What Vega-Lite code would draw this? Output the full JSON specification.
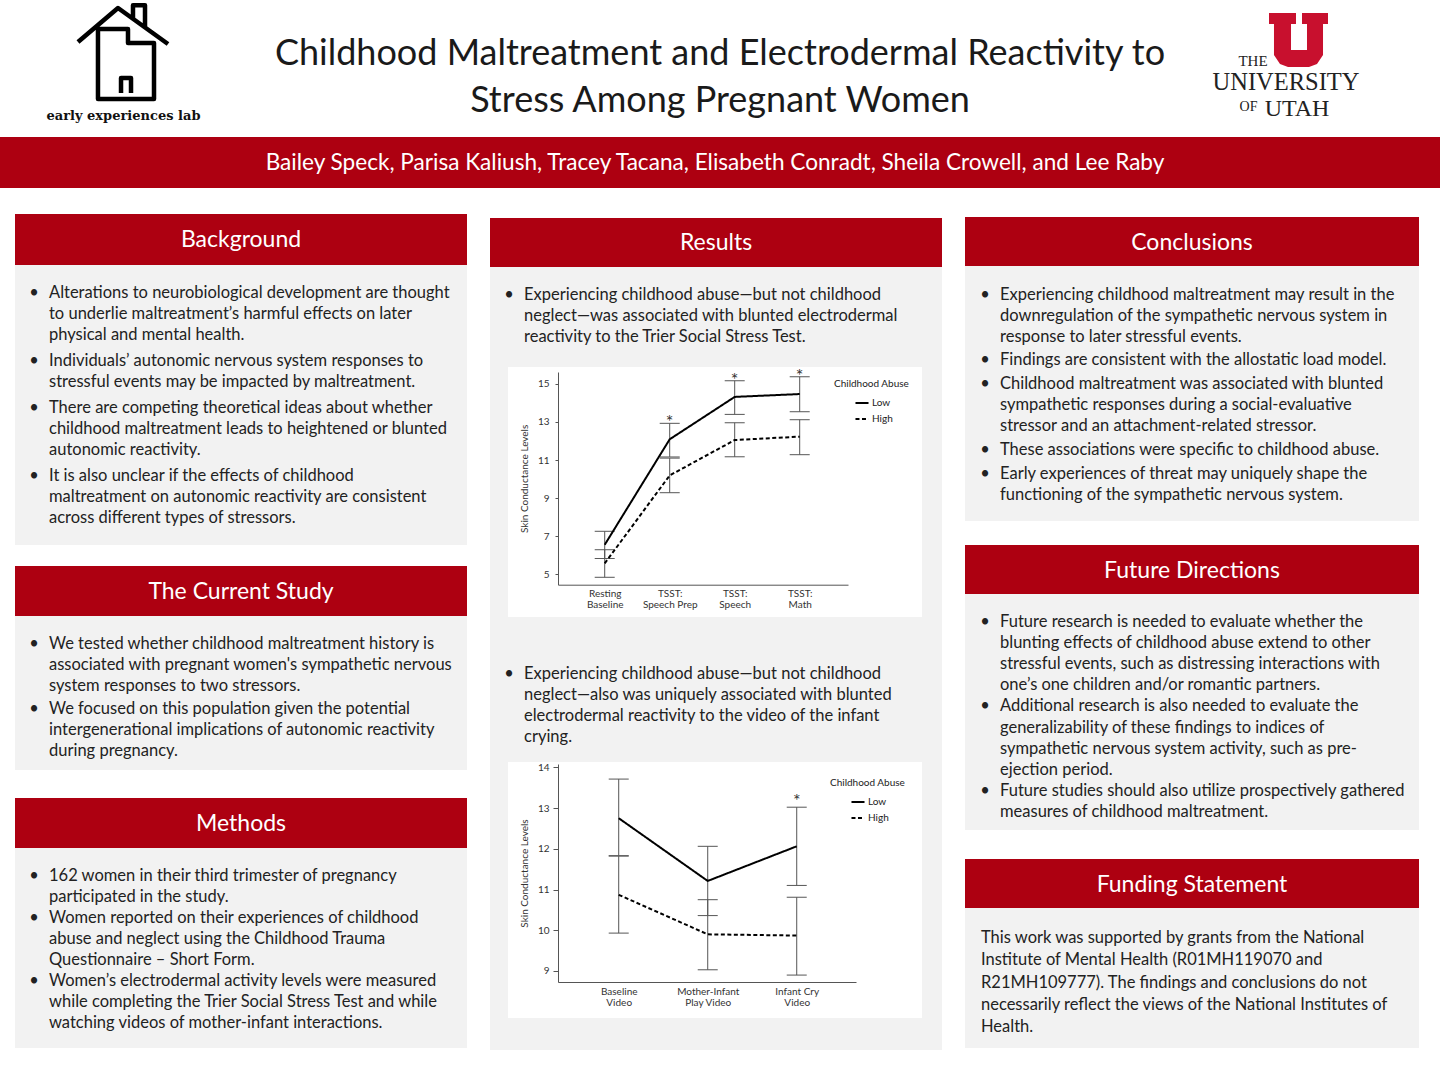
{
  "$schema": "https://vega.github.io/schema/vega-lite/v6.json",
  "background": "white",
  "padding": 0,
  "spacing": 0,
  "resolve": {"scale": {"strokeDash": "independent"}, "legend": {"strokeDash": "independent"}},
  "config": {
    "font": "Lato",
    "view": {"stroke": null},
    "axis": {"labelFont": "Lato", "titleFont": "Lato", "grid": false},
    "legend": {"labelFont": "Lato", "titleFont": "Lato"}
  },
  "datasets": {
    "bg": [
      {"l": 0, "p": 0, "b": "•", "t": "Alterations to neurobiological development are thought"},
      {"l": 1, "p": 0, "b": "", "t": "to underlie maltreatment’s harmful effects on later"},
      {"l": 2, "p": 0, "b": "", "t": "physical and mental health."},
      {"l": 3, "p": 1, "b": "•", "t": "Individuals’ autonomic nervous system responses to"},
      {"l": 4, "p": 1, "b": "", "t": "stressful events may be impacted by maltreatment."},
      {"l": 5, "p": 2, "b": "•", "t": "There are competing theoretical ideas about whether"},
      {"l": 6, "p": 2, "b": "", "t": "childhood maltreatment leads to heightened or blunted"},
      {"l": 7, "p": 2, "b": "", "t": "autonomic reactivity."},
      {"l": 8, "p": 3, "b": "•", "t": "It is also unclear if the effects of childhood"},
      {"l": 9, "p": 3, "b": "", "t": "maltreatment on autonomic reactivity are consistent"},
      {"l": 10, "p": 3, "b": "", "t": "across different types of stressors."}
    ],
    "cs": [
      {"l": 0, "p": 0, "b": "•", "t": "We tested whether childhood maltreatment history is"},
      {"l": 1, "p": 0, "b": "", "t": "associated with pregnant women's sympathetic nervous"},
      {"l": 2, "p": 0, "b": "", "t": "system responses to two stressors."},
      {"l": 3, "p": 1, "b": "•", "t": "We focused on this population given the potential"},
      {"l": 4, "p": 1, "b": "", "t": "intergenerational implications of autonomic reactivity"},
      {"l": 5, "p": 1, "b": "", "t": "during pregnancy."}
    ],
    "me": [
      {"l": 0, "p": 0, "b": "•", "t": "162 women in their third trimester of pregnancy"},
      {"l": 1, "p": 0, "b": "", "t": "participated in the study."},
      {"l": 2, "p": 1, "b": "•", "t": "Women reported on their experiences of childhood"},
      {"l": 3, "p": 1, "b": "", "t": "abuse and neglect using the Childhood Trauma"},
      {"l": 4, "p": 1, "b": "", "t": "Questionnaire – Short Form."},
      {"l": 5, "p": 2, "b": "•", "t": "Women’s electrodermal activity levels were measured"},
      {"l": 6, "p": 2, "b": "", "t": "while completing the Trier Social Stress Test and while"},
      {"l": 7, "p": 2, "b": "", "t": "watching videos of mother-infant interactions."}
    ],
    "r1": [
      {"l": 0, "p": 0, "b": "•", "t": "Experiencing childhood abuse—but not childhood"},
      {"l": 1, "p": 0, "b": "", "t": "neglect—was associated with blunted electrodermal"},
      {"l": 2, "p": 0, "b": "", "t": "reactivity to the Trier Social Stress Test."}
    ],
    "r2": [
      {"l": 0, "p": 0, "b": "•", "t": "Experiencing childhood abuse—but not childhood"},
      {"l": 1, "p": 0, "b": "", "t": "neglect—also was uniquely associated with blunted"},
      {"l": 2, "p": 0, "b": "", "t": "electrodermal reactivity to the video of the infant"},
      {"l": 3, "p": 0, "b": "", "t": "crying."}
    ],
    "co": [
      {"l": 0, "p": 0, "b": "•", "t": "Experiencing childhood maltreatment may result in the"},
      {"l": 1, "p": 0, "b": "", "t": "downregulation of the sympathetic nervous system in"},
      {"l": 2, "p": 0, "b": "", "t": "response to later stressful events."},
      {"l": 3, "p": 1, "b": "•", "t": "Findings are consistent with the allostatic load model."},
      {"l": 4, "p": 2, "b": "•", "t": "Childhood maltreatment was associated with blunted"},
      {"l": 5, "p": 2, "b": "", "t": "sympathetic responses during a social-evaluative"},
      {"l": 6, "p": 2, "b": "", "t": "stressor and an attachment-related stressor."},
      {"l": 7, "p": 3, "b": "•", "t": "These associations were specific to childhood abuse."},
      {"l": 8, "p": 4, "b": "•", "t": "Early experiences of threat may uniquely shape the"},
      {"l": 9, "p": 4, "b": "", "t": "functioning of the sympathetic nervous system."}
    ],
    "fd": [
      {"l": 0, "p": 0, "b": "•", "t": "Future research is needed to evaluate whether the"},
      {"l": 1, "p": 0, "b": "", "t": "blunting effects of childhood abuse extend to other"},
      {"l": 2, "p": 0, "b": "", "t": "stressful events, such as distressing interactions with"},
      {"l": 3, "p": 0, "b": "", "t": "one’s one children and/or romantic partners."},
      {"l": 4, "p": 1, "b": "•", "t": "Additional research is also needed to evaluate the"},
      {"l": 5, "p": 1, "b": "", "t": "generalizability of these findings to indices of"},
      {"l": 6, "p": 1, "b": "", "t": "sympathetic nervous system activity, such as pre-"},
      {"l": 7, "p": 1, "b": "", "t": "ejection period."},
      {"l": 8, "p": 2, "b": "•", "t": "Future studies should also utilize prospectively gathered"},
      {"l": 9, "p": 2, "b": "", "t": "measures of childhood maltreatment."}
    ],
    "fs": [
      {"l": 0, "t": "This work was supported by grants from the National"},
      {"l": 1, "t": "Institute of Mental Health (R01MH119070 and"},
      {"l": 2, "t": "R21MH109777). The findings and conclusions do not"},
      {"l": 3, "t": "necessarily reflect the views of the National Institutes of"},
      {"l": 4, "t": "Health."}
    ],
    "c1": [
      {"cond": "Resting\nBaseline", "group": "Low", "mean": 6.54, "lo": 5.82, "hi": 7.25, "star": 0},
      {"cond": "TSST:\nSpeech Prep", "group": "Low", "mean": 12.09, "lo": 11.16, "hi": 12.93, "star": 1},
      {"cond": "TSST:\nSpeech", "group": "Low", "mean": 14.32, "lo": 13.4, "hi": 15.17, "star": 1},
      {"cond": "TSST:\nMath", "group": "Low", "mean": 14.47, "lo": 13.54, "hi": 15.38, "star": 1},
      {"cond": "Resting\nBaseline", "group": "High", "mean": 5.56, "lo": 4.83, "hi": 6.28, "star": 0},
      {"cond": "TSST:\nSpeech Prep", "group": "High", "mean": 10.19, "lo": 9.28, "hi": 11.1, "star": 0},
      {"cond": "TSST:\nSpeech", "group": "High", "mean": 12.05, "lo": 11.17, "hi": 12.96, "star": 0},
      {"cond": "TSST:\nMath", "group": "High", "mean": 12.23, "lo": 11.28, "hi": 13.12, "star": 0}
    ],
    "c2": [
      {"cond": "Baseline\nVideo", "group": "Low", "mean": 12.75, "lo": 11.83, "hi": 13.71, "star": 0},
      {"cond": "Mother-Infant\nPlay Video", "group": "Low", "mean": 11.21, "lo": 10.36, "hi": 12.06, "star": 0},
      {"cond": "Infant Cry\nVideo", "group": "Low", "mean": 12.06, "lo": 11.1, "hi": 13.02, "star": 1},
      {"cond": "Baseline\nVideo", "group": "High", "mean": 10.87, "lo": 9.93, "hi": 11.82, "star": 0},
      {"cond": "Mother-Infant\nPlay Video", "group": "High", "mean": 9.9, "lo": 9.03, "hi": 10.75, "star": 0},
      {"cond": "Infant Cry\nVideo", "group": "High", "mean": 9.87, "lo": 8.9, "hi": 10.81, "star": 0}
    ]
  },
  "vconcat": [
    {
      "width": 1440,
      "height": 137,
      "layer": [
        {
          "data": {"values": [{"t": ["Childhood Maltreatment and Electrodermal Reactivity to", "Stress Among Pregnant Women"]}]},
          "mark": {"type": "text", "align": "center", "baseline": "alphabetic", "fontSize": 36, "lineHeight": 47, "color": "#1a1a1a"},
          "encoding": {"x": {"value": 720}, "y": {"value": 65}, "text": {"field": "t"}}
        },
        {
          "data": {"values": [{"logo": "early experiences lab"}]},
          "mark": {"type": "point", "shape": "M-1,-0.222L-0.111,-0.978L1,-0.178M0.222,-0.756L0.222,-1.04L0.489,-1.04L0.489,-0.556M0.111,-0.511L-0.556,-0.511L-0.556,1.044L0.689,1.044L0.689,-0.2L0.111,-0.2ZM-0.044,0.911L-0.044,0.578L0.178,0.578L0.178,0.911", "size": 8100, "filled": false, "strokeWidth": 4.5, "strokeJoin": "round", "color": "black", "opacity": 1},
          "encoding": {"x": {"value": 123}, "y": {"value": 52}}
        },
        {
          "data": {"values": [{"t": "early experiences lab"}]},
          "mark": {"type": "text", "align": "center", "baseline": "alphabetic", "font": "DejaVu Serif", "fontWeight": "bold", "fontSize": 13, "color": "#111111"},
          "encoding": {"x": {"value": 123.5}, "y": {"value": 120}, "text": {"field": "t"}}
        },
        {
          "data": {"values": [{"logo": "University of Utah"}]},
          "mark": {"type": "point", "shape": "M-1,-0.915L-0.085,-0.915L-0.085,-0.542L-0.254,-0.542L-0.254,0.339L0.288,0.339L0.288,-0.542L0.119,-0.542L0.119,-0.915L1,-0.915L1,-0.542L0.831,-0.542L0.831,0.508L0.627,0.814L0.356,0.915L-0.356,0.915L-0.627,0.814L-0.831,0.508L-0.831,-0.542L-1,-0.542Z", "size": 3481, "filled": true, "strokeWidth": 0, "color": "#c8102e", "opacity": 1},
          "encoding": {"x": {"value": 1298.5}, "y": {"value": 40}}
        },
        {
          "data": {"values": [{"t": "THE"}]},
          "mark": {"type": "text", "align": "center", "baseline": "alphabetic", "font": "Liberation Serif", "fontSize": 15, "color": "#222222"},
          "encoding": {"x": {"value": 1253}, "y": {"value": 66}, "text": {"field": "t"}}
        },
        {
          "data": {"values": [{"t": "UNIVERSITY"}]},
          "mark": {"type": "text", "align": "center", "baseline": "alphabetic", "font": "Liberation Serif", "fontSize": 24.5, "color": "#222222"},
          "encoding": {"x": {"value": 1286}, "y": {"value": 90}, "text": {"field": "t"}}
        },
        {
          "data": {"values": [{"t": "OF"}]},
          "mark": {"type": "text", "align": "center", "baseline": "alphabetic", "font": "Liberation Serif", "fontSize": 14, "color": "#222222"},
          "encoding": {"x": {"value": 1248.5}, "y": {"value": 111}, "text": {"field": "t"}}
        },
        {
          "data": {"values": [{"t": "UTAH"}]},
          "mark": {"type": "text", "align": "center", "baseline": "alphabetic", "font": "Liberation Serif", "fontSize": 24, "color": "#222222"},
          "encoding": {"x": {"value": 1297}, "y": {"value": 116}, "text": {"field": "t"}}
        }
      ]
    },
    {
      "width": 1440,
      "height": 51,
      "view": {"fill": "#ad0011"},
      "data": {"values": [{"t": "Bailey Speck, Parisa Kaliush, Tracey Tacana, Elisabeth Conradt, Sheila Crowell, and Lee Raby"}]},
      "mark": {"type": "text", "align": "center", "baseline": "middle", "fontSize": 22.6, "color": "white"},
      "encoding": {"x": {"value": 715}, "y": {"value": 26}, "text": {"field": "t"}}
    },
    {"width": 1440, "height": 26, "data": {"values": []}, "mark": "text"},
    {
      "spacing": 0,
      "resolve": {"scale": {"strokeDash": "independent"}, "legend": {"strokeDash": "independent"}},
      "hconcat": [
        {"width": 15, "height": 10, "data": {"values": []}, "mark": "text"},
        {
          "spacing": 0,
          "bounds": "flush",
          "vconcat": [
            {
              "width": 452, "height": 51, "view": {"fill": "#ad0011"},
              "data": {"values": [{"t": "Background"}]},
              "mark": {"type": "text", "align": "center", "baseline": "middle", "fontSize": 23, "color": "white"},
              "encoding": {"x": {"value": 226}, "y": {"value": 26}, "text": {"field": "t"}}
            },
            {"width": 452, "height": 17, "view": {"fill": "#f2f2f2"}, "data": {"values": []}, "mark": "text"},
            {
              "width": 452, "height": 68, "view": {"fill": "#f2f2f2"},
              "data": {"name": "bg"}, "transform": [{"filter": "datum.p == 0"}],
              "encoding": {"y": {"field": "l", "type": "quantitative", "scale": {"domain": [0, 1], "range": [11, 32], "nice": false, "zero": false}, "axis": null}},
              "layer": [
                {"mark": {"type": "text", "align": "center", "baseline": "middle", "fontSize": 16.5, "color": "#222222"}, "encoding": {"x": {"value": 19}, "text": {"field": "b"}}},
                {"mark": {"type": "text", "align": "left", "baseline": "middle", "fontSize": 16.5, "color": "#222222"}, "encoding": {"x": {"value": 34}, "text": {"field": "t"}}}
              ]
            },
            {
              "width": 452, "height": 47, "view": {"fill": "#f2f2f2"},
              "data": {"name": "bg"}, "transform": [{"filter": "datum.p == 1"}],
              "encoding": {"y": {"field": "l", "type": "quantitative", "scale": {"domain": [3, 4], "range": [11, 32], "nice": false, "zero": false}, "axis": null}},
              "layer": [
                {"mark": {"type": "text", "align": "center", "baseline": "middle", "fontSize": 16.5, "color": "#222222"}, "encoding": {"x": {"value": 19}, "text": {"field": "b"}}},
                {"mark": {"type": "text", "align": "left", "baseline": "middle", "fontSize": 16.5, "color": "#222222"}, "encoding": {"x": {"value": 34}, "text": {"field": "t"}}}
              ]
            },
            {
              "width": 452, "height": 68, "view": {"fill": "#f2f2f2"},
              "data": {"name": "bg"}, "transform": [{"filter": "datum.p == 2"}],
              "encoding": {"y": {"field": "l", "type": "quantitative", "scale": {"domain": [5, 6], "range": [11, 32], "nice": false, "zero": false}, "axis": null}},
              "layer": [
                {"mark": {"type": "text", "align": "center", "baseline": "middle", "fontSize": 16.5, "color": "#222222"}, "encoding": {"x": {"value": 19}, "text": {"field": "b"}}},
                {"mark": {"type": "text", "align": "left", "baseline": "middle", "fontSize": 16.5, "color": "#222222"}, "encoding": {"x": {"value": 34}, "text": {"field": "t"}}}
              ]
            },
            {
              "width": 452, "height": 80, "view": {"fill": "#f2f2f2"},
              "data": {"name": "bg"}, "transform": [{"filter": "datum.p == 3"}],
              "encoding": {"y": {"field": "l", "type": "quantitative", "scale": {"domain": [8, 9], "range": [11, 32], "nice": false, "zero": false}, "axis": null}},
              "layer": [
                {"mark": {"type": "text", "align": "center", "baseline": "middle", "fontSize": 16.5, "color": "#222222"}, "encoding": {"x": {"value": 19}, "text": {"field": "b"}}},
                {"mark": {"type": "text", "align": "left", "baseline": "middle", "fontSize": 16.5, "color": "#222222"}, "encoding": {"x": {"value": 34}, "text": {"field": "t"}}}
              ]
            },
            {"width": 452, "height": 21, "data": {"values": []}, "mark": "text"},
            {
              "width": 452, "height": 50, "view": {"fill": "#ad0011"},
              "data": {"values": [{"t": "The Current Study"}]},
              "mark": {"type": "text", "align": "center", "baseline": "middle", "fontSize": 23, "color": "white"},
              "encoding": {"x": {"value": 226}, "y": {"value": 26}, "text": {"field": "t"}}
            },
            {"width": 452, "height": 17, "view": {"fill": "#f2f2f2"}, "data": {"values": []}, "mark": "text"},
            {
              "width": 452, "height": 65, "view": {"fill": "#f2f2f2"},
              "data": {"name": "cs"}, "transform": [{"filter": "datum.p == 0"}],
              "encoding": {"y": {"field": "l", "type": "quantitative", "scale": {"domain": [0, 1], "range": [11, 32], "nice": false, "zero": false}, "axis": null}},
              "layer": [
                {"mark": {"type": "text", "align": "center", "baseline": "middle", "fontSize": 16.5, "color": "#222222"}, "encoding": {"x": {"value": 19}, "text": {"field": "b"}}},
                {"mark": {"type": "text", "align": "left", "baseline": "middle", "fontSize": 16.5, "color": "#222222"}, "encoding": {"x": {"value": 34}, "text": {"field": "t"}}}
              ]
            },
            {
              "width": 452, "height": 72, "view": {"fill": "#f2f2f2"},
              "data": {"name": "cs"}, "transform": [{"filter": "datum.p == 1"}],
              "encoding": {"y": {"field": "l", "type": "quantitative", "scale": {"domain": [3, 4], "range": [11, 32], "nice": false, "zero": false}, "axis": null}},
              "layer": [
                {"mark": {"type": "text", "align": "center", "baseline": "middle", "fontSize": 16.5, "color": "#222222"}, "encoding": {"x": {"value": 19}, "text": {"field": "b"}}},
                {"mark": {"type": "text", "align": "left", "baseline": "middle", "fontSize": 16.5, "color": "#222222"}, "encoding": {"x": {"value": 34}, "text": {"field": "t"}}}
              ]
            },
            {"width": 452, "height": 28, "data": {"values": []}, "mark": "text"},
            {
              "width": 452, "height": 50, "view": {"fill": "#ad0011"},
              "data": {"values": [{"t": "Methods"}]},
              "mark": {"type": "text", "align": "center", "baseline": "middle", "fontSize": 23, "color": "white"},
              "encoding": {"x": {"value": 226}, "y": {"value": 26}, "text": {"field": "t"}}
            },
            {
              "width": 452, "height": 200, "view": {"fill": "#f2f2f2"},
              "data": {"name": "me"},
              "encoding": {
                "y": {"field": "l", "type": "quantitative", "scale": {"domain": [0, 1], "range": [28, 49], "nice": false, "zero": false}, "axis": null}
              },
              "layer": [
                {"mark": {"type": "text", "align": "center", "baseline": "middle", "fontSize": 16.5, "color": "#222222"}, "encoding": {"x": {"value": 19}, "text": {"field": "b"}}},
                {"mark": {"type": "text", "align": "left", "baseline": "middle", "fontSize": 16.5, "color": "#222222"}, "encoding": {"x": {"value": 34}, "text": {"field": "t"}}}
              ]
            }
          ]
        },
        {"width": 23, "height": 10, "data": {"values": []}, "mark": "text"},
        {
          "spacing": 0,
          "resolve": {"scale": {"strokeDash": "independent"}, "legend": {"strokeDash": "independent"}},
          "vconcat": [
            {"width": 452, "height": 4, "data": {"values": []}, "mark": "text"},
            {
              "width": 452, "height": 49, "view": {"fill": "#ad0011"},
              "data": {"values": [{"t": "Results"}]},
              "mark": {"type": "text", "align": "center", "baseline": "middle", "fontSize": 23, "color": "white"},
              "encoding": {"x": {"value": 226}, "y": {"value": 25}, "text": {"field": "t"}}
            },
            {
              "width": 452, "height": 100, "view": {"fill": "#f2f2f2"},
              "data": {"name": "r1"},
              "encoding": {
                "y": {"field": "l", "type": "quantitative", "scale": {"domain": [0, 1], "range": [28, 49], "nice": false, "zero": false}, "axis": null}
              },
              "layer": [
                {"mark": {"type": "text", "align": "center", "baseline": "middle", "fontSize": 16.5, "color": "#222222"}, "encoding": {"x": {"value": 19}, "text": {"field": "b"}}},
                {"mark": {"type": "text", "align": "left", "baseline": "middle", "fontSize": 16.5, "color": "#222222"}, "encoding": {"x": {"value": 34}, "text": {"field": "t"}}}
              ]
            },
            {
              "spacing": 0,
              "resolve": {"scale": {"strokeDash": "independent"}, "legend": {"strokeDash": "independent"}},
              "hconcat": [
                {"width": 18, "height": 250, "view": {"fill": "#f2f2f2"}, "data": {"values": []}, "mark": "text"},
                {
                  "width": 414, "height": 250, "view": {"fill": "white"},
                  "data": {"name": "c1"},
                  "encoding": {
                    "x": {
                      "field": "cond", "type": "nominal",
                      "scale": {"type": "point", "domain": ["Resting\nBaseline", "TSST:\nSpeech Prep", "TSST:\nSpeech", "TSST:\nMath"], "range": [50, 340], "padding": 0.7308, "align": 0.4916},
                      "axis": {"orient": "bottom", "offset": -32.3, "ticks": false, "domainColor": "#555555", "labelExpr": "split(datum.label, '\\n')", "labelAngle": 0, "labelFontSize": 10, "labelLineHeight": 11, "labelPadding": 4, "labelColor": "#333333", "labelOverlap": false, "labelBound": false, "title": null, "grid": false}
                    }
                  },
                  "layer": [
                    {
                      "mark": {"type": "rule", "color": "#555555", "strokeWidth": 1},
                      "encoding": {
                        "y": {
                          "field": "lo", "type": "quantitative", "title": "Skin Conductance Levels",
                          "scale": {"domain": [4.44, 15.63], "range": [217.7, 5], "nice": false, "zero": false},
                          "axis": {"offset": -50, "values": [5, 6, 7, 8, 9, 10, 11, 12, 13, 14, 15], "labelExpr": "datum.value % 2 == 1 ? datum.label : ''", "tickSize": 3, "tickColor": "#555555", "domainColor": "#555555", "labelFontSize": 10, "labelColor": "#333333", "labelPadding": 6, "titleFontSize": 10, "titleFontWeight": "normal", "titleColor": "#333333", "titlePadding": 8, "grid": false}
                        },
                        "y2": {"field": "hi"}
                      }
                    },
                    {
                      "mark": {"type": "tick", "size": 20, "thickness": 1, "color": "#555555", "opacity": 1},
                      "encoding": {"y": {"field": "lo", "type": "quantitative", "title": "Skin Conductance Levels"}}
                    },
                    {
                      "mark": {"type": "tick", "size": 20, "thickness": 1, "color": "#555555", "opacity": 1},
                      "encoding": {"y": {"field": "hi", "type": "quantitative", "title": "Skin Conductance Levels"}}
                    },
                    {
                      "mark": {"type": "line", "color": "black", "strokeWidth": 2},
                      "encoding": {
                        "y": {"field": "mean", "type": "quantitative", "title": "Skin Conductance Levels"},
                        "strokeDash": {
                          "field": "group", "type": "nominal",
                          "scale": {"domain": ["Low", "High"], "range": [[1, 0], [4, 2.5]]},
                          "legend": {"title": "Childhood Abuse", "orient": "top-right", "offset": 12, "symbolType": "stroke", "symbolStrokeWidth": 2, "symbolSize": 170, "symbolStrokeColor": "black", "symbolOffset": 20, "titleFontSize": 10, "titleFontWeight": "normal", "titleColor": "#222222", "labelFontSize": 10, "labelColor": "#222222", "titlePadding": 6, "rowPadding": 3, "labelOffset": 2}
                        }
                      }
                    },
                    {
                      "transform": [{"filter": "datum.star == 1"}],
                      "mark": {"type": "text", "text": "*", "fontSize": 18, "color": "#333333", "baseline": "alphabetic", "dy": 5},
                      "encoding": {"y": {"field": "hi", "type": "quantitative", "title": "Skin Conductance Levels"}}
                    }
                  ]
                },
                {"width": 20, "height": 250, "view": {"fill": "#f2f2f2"}, "data": {"values": []}, "mark": "text"}
              ]
            },
            {
              "width": 452, "height": 145, "view": {"fill": "#f2f2f2"},
              "data": {"name": "r2"},
              "encoding": {
                "y": {"field": "l", "type": "quantitative", "scale": {"domain": [0, 1], "range": [57, 78], "nice": false, "zero": false}, "axis": null}
              },
              "layer": [
                {"mark": {"type": "text", "align": "center", "baseline": "middle", "fontSize": 16.5, "color": "#222222"}, "encoding": {"x": {"value": 19}, "text": {"field": "b"}}},
                {"mark": {"type": "text", "align": "left", "baseline": "middle", "fontSize": 16.5, "color": "#222222"}, "encoding": {"x": {"value": 34}, "text": {"field": "t"}}}
              ]
            },
            {
              "spacing": 0,
              "resolve": {"scale": {"strokeDash": "independent"}, "legend": {"strokeDash": "independent"}},
              "hconcat": [
                {"width": 18, "height": 256, "view": {"fill": "#f2f2f2"}, "data": {"values": []}, "mark": "text"},
                {
                  "width": 414, "height": 256, "view": {"fill": "white"},
                  "data": {"name": "c2"},
                  "encoding": {
                    "x": {
                      "field": "cond", "type": "nominal",
                      "scale": {"type": "point", "domain": ["Baseline\nVideo", "Mother-Infant\nPlay Video", "Infant Cry\nVideo"], "range": [50, 348], "padding": 0.674, "align": 0.506},
                      "axis": {"orient": "bottom", "offset": -36, "ticks": false, "domainColor": "#555555", "labelExpr": "split(datum.label, '\\n')", "labelAngle": 0, "labelFontSize": 10, "labelLineHeight": 11, "labelPadding": 4, "labelColor": "#333333", "labelOverlap": false, "labelBound": false, "title": null, "grid": false}
                    }
                  },
                  "layer": [
                    {
                      "mark": {"type": "rule", "color": "#555555", "strokeWidth": 1},
                      "encoding": {
                        "y": {
                          "field": "lo", "type": "quantitative", "title": "Skin Conductance Levels",
                          "scale": {"domain": [8.73, 14.08], "range": [220, 2], "nice": false, "zero": false},
                          "axis": {"offset": -50, "values": [9, 10, 11, 12, 13, 14], "tickSize": 5, "tickColor": "#555555", "domainColor": "#555555", "labelFontSize": 10, "labelColor": "#333333", "labelPadding": 4, "titleFontSize": 10, "titleFontWeight": "normal", "titleColor": "#333333", "titlePadding": 8, "grid": false}
                        },
                        "y2": {"field": "hi"}
                      }
                    },
                    {
                      "mark": {"type": "tick", "size": 20, "thickness": 1, "color": "#555555", "opacity": 1},
                      "encoding": {"y": {"field": "lo", "type": "quantitative", "title": "Skin Conductance Levels"}}
                    },
                    {
                      "mark": {"type": "tick", "size": 20, "thickness": 1, "color": "#555555", "opacity": 1},
                      "encoding": {"y": {"field": "hi", "type": "quantitative", "title": "Skin Conductance Levels"}}
                    },
                    {
                      "mark": {"type": "line", "color": "black", "strokeWidth": 2},
                      "encoding": {
                        "y": {"field": "mean", "type": "quantitative", "title": "Skin Conductance Levels"},
                        "strokeDash": {
                          "field": "group", "type": "nominal",
                          "scale": {"domain": ["Low", "High"], "range": [[1, 0], [4, 2.5]]},
                          "legend": {"title": "Childhood Abuse", "orient": "top-right", "offset": 16, "symbolType": "stroke", "symbolStrokeWidth": 2, "symbolSize": 170, "symbolStrokeColor": "black", "symbolOffset": 20, "titleFontSize": 10, "titleFontWeight": "normal", "titleColor": "#222222", "labelFontSize": 10, "labelColor": "#222222", "titlePadding": 6, "rowPadding": 3, "labelOffset": 2}
                        }
                      }
                    },
                    {
                      "transform": [{"filter": "datum.star == 1"}],
                      "mark": {"type": "text", "text": "*", "fontSize": 18, "color": "#333333", "baseline": "alphabetic", "dy": 0},
                      "encoding": {"y": {"field": "hi", "type": "quantitative", "title": "Skin Conductance Levels"}}
                    }
                  ]
                },
                {"width": 20, "height": 256, "view": {"fill": "#f2f2f2"}, "data": {"values": []}, "mark": "text"}
              ]
            },
            {"width": 452, "height": 32, "view": {"fill": "#f2f2f2"}, "data": {"values": []}, "mark": "text"}
          ]
        },
        {"width": 23, "height": 10, "data": {"values": []}, "mark": "text"},
        {
          "spacing": 0,
          "bounds": "flush",
          "vconcat": [
            {"width": 454, "height": 3, "data": {"values": []}, "mark": "text"},
            {
              "width": 454, "height": 49, "view": {"fill": "#ad0011"},
              "data": {"values": [{"t": "Conclusions"}]},
              "mark": {"type": "text", "align": "center", "baseline": "middle", "fontSize": 23, "color": "white"},
              "encoding": {"x": {"value": 227}, "y": {"value": 26}, "text": {"field": "t"}}
            },
            {"width": 454, "height": 18, "view": {"fill": "#f2f2f2"}, "data": {"values": []}, "mark": "text"},
            {
              "width": 454, "height": 65, "view": {"fill": "#f2f2f2"},
              "data": {"name": "co"}, "transform": [{"filter": "datum.p == 0"}],
              "encoding": {"y": {"field": "l", "type": "quantitative", "scale": {"domain": [0, 1], "range": [11, 32], "nice": false, "zero": false}, "axis": null}},
              "layer": [
                {"mark": {"type": "text", "align": "center", "baseline": "middle", "fontSize": 16.5, "color": "#222222"}, "encoding": {"x": {"value": 20}, "text": {"field": "b"}}},
                {"mark": {"type": "text", "align": "left", "baseline": "middle", "fontSize": 16.5, "color": "#222222"}, "encoding": {"x": {"value": 35}, "text": {"field": "t"}}}
              ]
            },
            {
              "width": 454, "height": 24, "view": {"fill": "#f2f2f2"},
              "data": {"name": "co"}, "transform": [{"filter": "datum.p == 1"}],
              "encoding": {"y": {"field": "l", "type": "quantitative", "scale": {"domain": [3, 4], "range": [11, 32], "nice": false, "zero": false}, "axis": null}},
              "layer": [
                {"mark": {"type": "text", "align": "center", "baseline": "middle", "fontSize": 16.5, "color": "#222222"}, "encoding": {"x": {"value": 20}, "text": {"field": "b"}}},
                {"mark": {"type": "text", "align": "left", "baseline": "middle", "fontSize": 16.5, "color": "#222222"}, "encoding": {"x": {"value": 35}, "text": {"field": "t"}}}
              ]
            },
            {
              "width": 454, "height": 66, "view": {"fill": "#f2f2f2"},
              "data": {"name": "co"}, "transform": [{"filter": "datum.p == 2"}],
              "encoding": {"y": {"field": "l", "type": "quantitative", "scale": {"domain": [4, 5], "range": [11, 32], "nice": false, "zero": false}, "axis": null}},
              "layer": [
                {"mark": {"type": "text", "align": "center", "baseline": "middle", "fontSize": 16.5, "color": "#222222"}, "encoding": {"x": {"value": 20}, "text": {"field": "b"}}},
                {"mark": {"type": "text", "align": "left", "baseline": "middle", "fontSize": 16.5, "color": "#222222"}, "encoding": {"x": {"value": 35}, "text": {"field": "t"}}}
              ]
            },
            {
              "width": 454, "height": 24, "view": {"fill": "#f2f2f2"},
              "data": {"name": "co"}, "transform": [{"filter": "datum.p == 3"}],
              "encoding": {"y": {"field": "l", "type": "quantitative", "scale": {"domain": [7, 8], "range": [11, 32], "nice": false, "zero": false}, "axis": null}},
              "layer": [
                {"mark": {"type": "text", "align": "center", "baseline": "middle", "fontSize": 16.5, "color": "#222222"}, "encoding": {"x": {"value": 20}, "text": {"field": "b"}}},
                {"mark": {"type": "text", "align": "left", "baseline": "middle", "fontSize": 16.5, "color": "#222222"}, "encoding": {"x": {"value": 35}, "text": {"field": "t"}}}
              ]
            },
            {
              "width": 454, "height": 58, "view": {"fill": "#f2f2f2"},
              "data": {"name": "co"}, "transform": [{"filter": "datum.p == 4"}],
              "encoding": {"y": {"field": "l", "type": "quantitative", "scale": {"domain": [8, 9], "range": [11, 32], "nice": false, "zero": false}, "axis": null}},
              "layer": [
                {"mark": {"type": "text", "align": "center", "baseline": "middle", "fontSize": 16.5, "color": "#222222"}, "encoding": {"x": {"value": 20}, "text": {"field": "b"}}},
                {"mark": {"type": "text", "align": "left", "baseline": "middle", "fontSize": 16.5, "color": "#222222"}, "encoding": {"x": {"value": 35}, "text": {"field": "t"}}}
              ]
            },
            {"width": 454, "height": 24, "data": {"values": []}, "mark": "text"},
            {
              "width": 454, "height": 49, "view": {"fill": "#ad0011"},
              "data": {"values": [{"t": "Future Directions"}]},
              "mark": {"type": "text", "align": "center", "baseline": "middle", "fontSize": 23, "color": "white"},
              "encoding": {"x": {"value": 227}, "y": {"value": 26}, "text": {"field": "t"}}
            },
            {
              "width": 454, "height": 236, "view": {"fill": "#f2f2f2"},
              "data": {"name": "fd"},
              "encoding": {
                "y": {"field": "l", "type": "quantitative", "scale": {"domain": [0, 1], "range": [28, 49.1], "nice": false, "zero": false}, "axis": null}
              },
              "layer": [
                {"mark": {"type": "text", "align": "center", "baseline": "middle", "fontSize": 16.5, "color": "#222222"}, "encoding": {"x": {"value": 20}, "text": {"field": "b"}}},
                {"mark": {"type": "text", "align": "left", "baseline": "middle", "fontSize": 16.5, "color": "#222222"}, "encoding": {"x": {"value": 35}, "text": {"field": "t"}}}
              ]
            },
            {"width": 454, "height": 29, "data": {"values": []}, "mark": "text"},
            {
              "width": 454, "height": 49, "view": {"fill": "#ad0011"},
              "data": {"values": [{"t": "Funding Statement"}]},
              "mark": {"type": "text", "align": "center", "baseline": "middle", "fontSize": 23, "color": "white"},
              "encoding": {"x": {"value": 227}, "y": {"value": 26}, "text": {"field": "t"}}
            },
            {
              "width": 454, "height": 140, "view": {"fill": "#f2f2f2"},
              "data": {"name": "fs"},
              "mark": {"type": "text", "align": "left", "baseline": "middle", "fontSize": 16.5, "color": "#222222"},
              "encoding": {
                "y": {"field": "l", "type": "quantitative", "scale": {"domain": [0, 1], "range": [30, 52.3], "nice": false, "zero": false}, "axis": null},
                "x": {"value": 16},
                "text": {"field": "t"}
              }
            }
          ]
        }
      ]
    }
  ]
}
